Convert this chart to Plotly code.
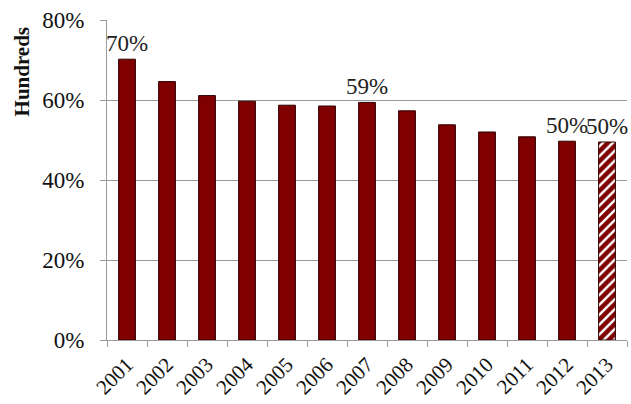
import plotly.graph_objects as go

years = ["2001", "2002", "2003", "2004", "2005", "2006", "2007",
         "2008", "2009", "2010", "2011", "2012", "2013"]
shares = [70.2, 64.6, 61.1, 59.7, 58.7, 58.5, 59.4,
          57.3, 53.8, 52.0, 50.8, 49.7, 49.5]
y_ticks = [0, 20, 40, 60, 80]
y_tick_text = ["0%", "20%", "40%", "60%", "80%"]
labelled = {"2001", "2007", "2012", "2013"}
projected = "2013"

DARK_RED = "#800000"
SERIF = "Liberation Serif, Times New Roman, serif"


def label(y, v):
    return f"{int(v + 0.5)}%" if y in labelled else ""


actual = [(y, v) for y, v in zip(years, shares) if y != projected]
proj = [(y, v) for y, v in zip(years, shares) if y == projected]

fig = go.Figure()
fig.add_trace(go.Bar(
    x=[y for y, _ in actual],
    y=[v for _, v in actual],
    text=[label(y, v) for y, v in actual],
    textposition="outside",
    constraintext="none",
    cliponaxis=False,
    textfont=dict(family=SERIF, size=23, color="#222"),
    marker=dict(color=DARK_RED, line=dict(color="#2a0000", width=1)),
))
fig.add_trace(go.Bar(
    x=[y for y, _ in proj],
    y=[v for _, v in proj],
    text=[label(y, v) for y, v in proj],
    textposition="outside",
    constraintext="none",
    cliponaxis=False,
    textfont=dict(family=SERIF, size=23, color="#222"),
    marker=dict(
        color="white",
        pattern=dict(shape="/", fgcolor=DARK_RED, fgopacity=1, bgcolor="white",
                     size=7, solidity=0.65),
        line=dict(color="#2a0000", width=1),
    ),
))

fig.update_layout(
    width=631,
    height=404,
    margin=dict(l=107, r=4, t=20, b=64, autoexpand=False),
    plot_bgcolor="white",
    paper_bgcolor="white",
    barmode="overlay",
    bargap=0.58,
    showlegend=False,
    font=dict(family=SERIF, color="#111"),
    annotations=[dict(
        text="<b>Hundreds</b>",
        textangle=-90,
        xref="paper", yref="paper",
        x=-0.163, y=0.84,
        xanchor="center", yanchor="middle",
        showarrow=False,
        font=dict(family=SERIF, size=21, color="#111"),
    )],
)

fig.update_xaxes(
    type="category",
    categoryorder="array",
    categoryarray=years,
    automargin=False,
    tickangle=-45,
    tickfont=dict(family=SERIF, size=21, color="#111"),
    ticklabelstandoff=3,
    showline=True,
    linecolor="#9a9a9a",
    linewidth=1,
    ticks="outside",
    tickson="boundaries",
    ticklen=6,
    tickcolor="#9a9a9a",
    showgrid=False,
)

fig.update_yaxes(
    range=[0, 80],
    automargin=False,
    tickvals=y_ticks,
    ticktext=y_tick_text,
    tickfont=dict(family=SERIF, size=23, color="#111"),
    ticklabelstandoff=11,
    showline=True,
    linecolor="#9a9a9a",
    linewidth=1,
    ticks="outside",
    ticklen=6,
    tickcolor="#9a9a9a",
    showgrid=True,
    gridcolor="#9a9a9a",
    gridwidth=1,
    zeroline=False,
)

fig.write_html("out.html")
